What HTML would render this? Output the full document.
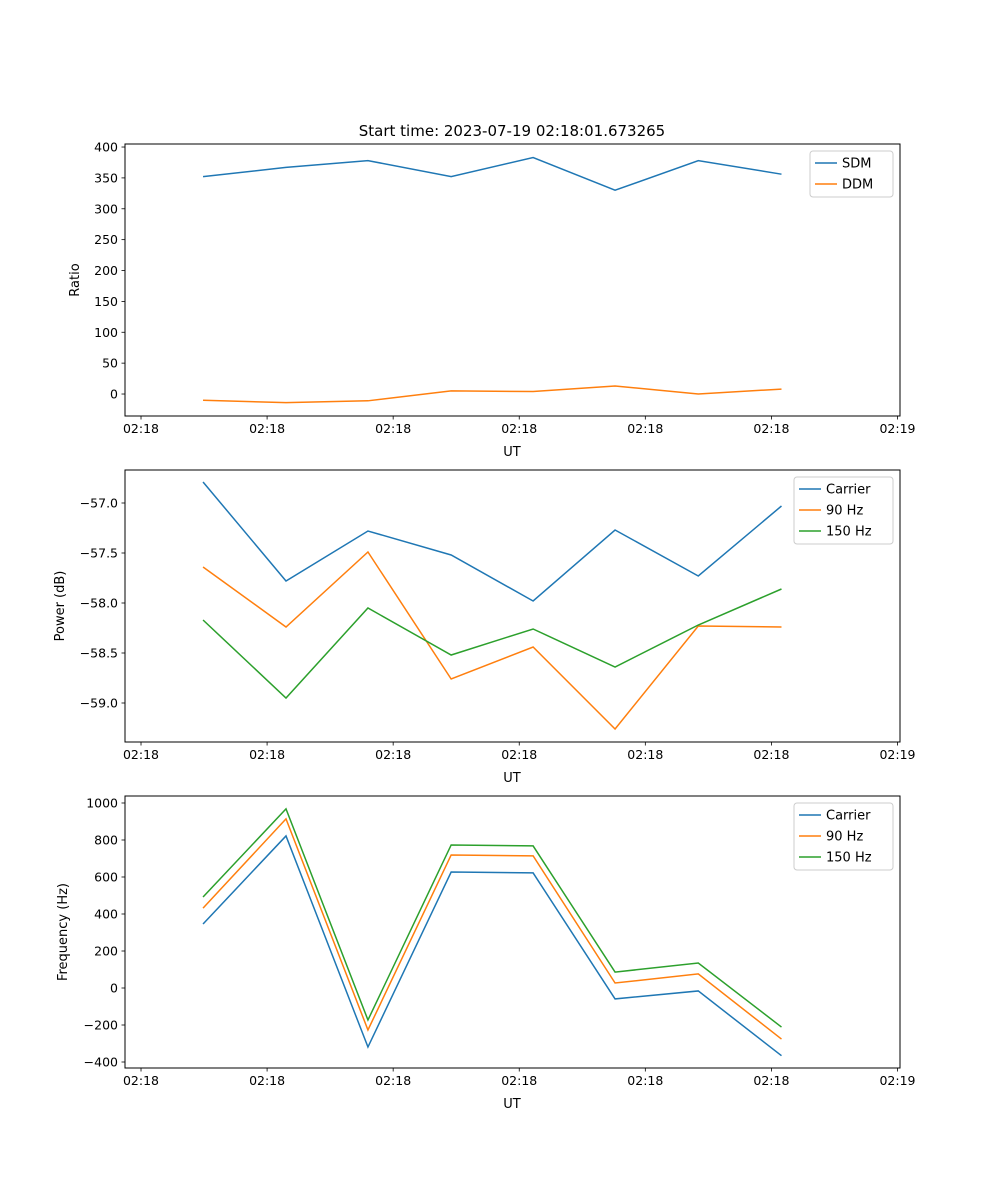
<!DOCTYPE html>
<html><head><meta charset="utf-8"><style>
body{margin:0;background:#fff}
svg{display:block;font-family:"DejaVu Sans","Liberation Sans",sans-serif}
</style></head><body>
<svg id="fig" width="1000" height="1200"></svg>
<script>
const times=[4.92,11.5,18.0,24.6,31.1,37.6,44.2,50.8];
const xTicks=[0,10,20,30,40,50,60];
const xTickLabels=["02:18","02:18","02:18","02:18","02:18","02:18","02:19"];
const sdm=[352,367,378,352,383,330,378,356];
const ddm=[-10,-14,-11,5,4,13,0,8];
const pCarrier=[-56.79,-57.78,-57.28,-57.52,-57.98,-57.27,-57.73,-57.03];
const p90=[-57.64,-58.24,-57.49,-58.76,-58.44,-59.26,-58.23,-58.24];
const p150=[-58.17,-58.95,-58.05,-58.52,-58.26,-58.64,-58.22,-57.86];
const fCarrier=[346,822,-319,627,622,-59,-16,-366];
const f90=[432,914,-227,719,714,27,76,-276];
const f150=[492,968,-173,773,768,86,135,-211];
const ratioTicks=[0,50,100,150,200,250,300,350,400];
const powerTicks=[-57.0,-57.5,-58.0,-58.5,-59.0];
const freqTicks=[-400,-200,0,200,400,600,800,1000];

const NS="http://www.w3.org/2000/svg";
const svg=document.getElementById('fig');
function el(t,a,p){const e=document.createElementNS(NS,t);for(const k in a)e.setAttribute(k,a[k]);(p||svg).appendChild(e);return e;}
const L=125,R=900,xmin=-1.27,xmax=60.2;
const xs=v=>L+(v-xmin)/(xmax-xmin)*(R-L);
const C=['#1f77b4','#ff7f0e','#2ca02c'];

function panel(name,top,ymin,ymax,yticks,fmt,ylabel,ylabX,series,names,legW){
  const bot=top+272;
  const g=el('g',{});
  
  
  const ys=v=>bot-(v-ymin)/(ymax-ymin)*272;
  series.forEach((s,i)=>{
    const pl=el('polyline',{points:s.map((v,j)=>xs(times[j])+','+ys(v)).join(' '),fill:'none',stroke:C[i],'stroke-width':1.5},g);
    
    
  });
  el('rect',{x:L,y:top,width:R-L,height:272,fill:'none',stroke:'#000','stroke-width':1},g);
  xTicks.forEach((t,i)=>{
    const x=xs(t);
    el('line',{x1:x,x2:x,y1:bot,y2:bot+3.5,stroke:'#000','stroke-width':0.8},g);
    const tx=el('text',{x:x,y:bot+17,'font-size':12.5,'text-anchor':'middle'},g);tx.textContent=xTickLabels[i];
    
    
  });
  const xl=el('text',{x:512,y:bot+40,'font-size':13,'text-anchor':'middle'},g);xl.textContent='UT';
  
  
  yticks.forEach(t=>{
    const y=ys(t);
    el('line',{x1:L-3.5,x2:L,y1:y,y2:y,stroke:'#000','stroke-width':0.8},g);
    const tx=el('text',{x:L-7,y:y+4.5,'font-size':12.5,'text-anchor':'end'},g);tx.textContent=fmt(t);
    
    
  });
  const yl=el('text',{x:ylabX,y:top+136,'font-size':13,'text-anchor':'middle',transform:`rotate(-90 ${ylabX} ${top+136})`},g);yl.textContent=ylabel;
  
  
  const lx=R-7-legW,ly=top+7,lh=names.length*21+4;
  const lg=el('g',{},g);
  
  
  el('rect',{x:lx,y:ly,width:legW,height:lh,rx:3,fill:'#fff','fill-opacity':0.8,stroke:'#ccc'},lg);
  names.forEach((n,i)=>{
    const yy=ly+12+i*21;
    el('line',{x1:lx+5,x2:lx+27,y1:yy,y2:yy,stroke:C[i],'stroke-width':1.5},lg);
    const t=el('text',{x:lx+32,y:yy+4.5,'font-size':13},lg);t.textContent=n;
    
    
  });
}
const title=el('text',{x:512,y:136,'font-size':15,'text-anchor':'middle'});
title.textContent='Start time: 2023-07-19 02:18:01.673265';


panel('ratio',144,-35.6,404.9,ratioTicks,v=>String(v),'Ratio',79,[sdm,ddm],['SDM','DDM'],83);
panel('power',470,-59.39,-56.67,powerTicks,v=>'\u2212'+Math.abs(v).toFixed(1),'Power (dB)',64,[pCarrier,p90,p150],['Carrier','90 Hz','150 Hz'],99);
panel('frequency',796,-432.4,1037.8,freqTicks,v=>(v<0?'\u2212':'')+Math.abs(v),'Frequency (Hz)',67,[fCarrier,f90,f150],['Carrier','90 Hz','150 Hz'],99);
</script>
</body></html>
